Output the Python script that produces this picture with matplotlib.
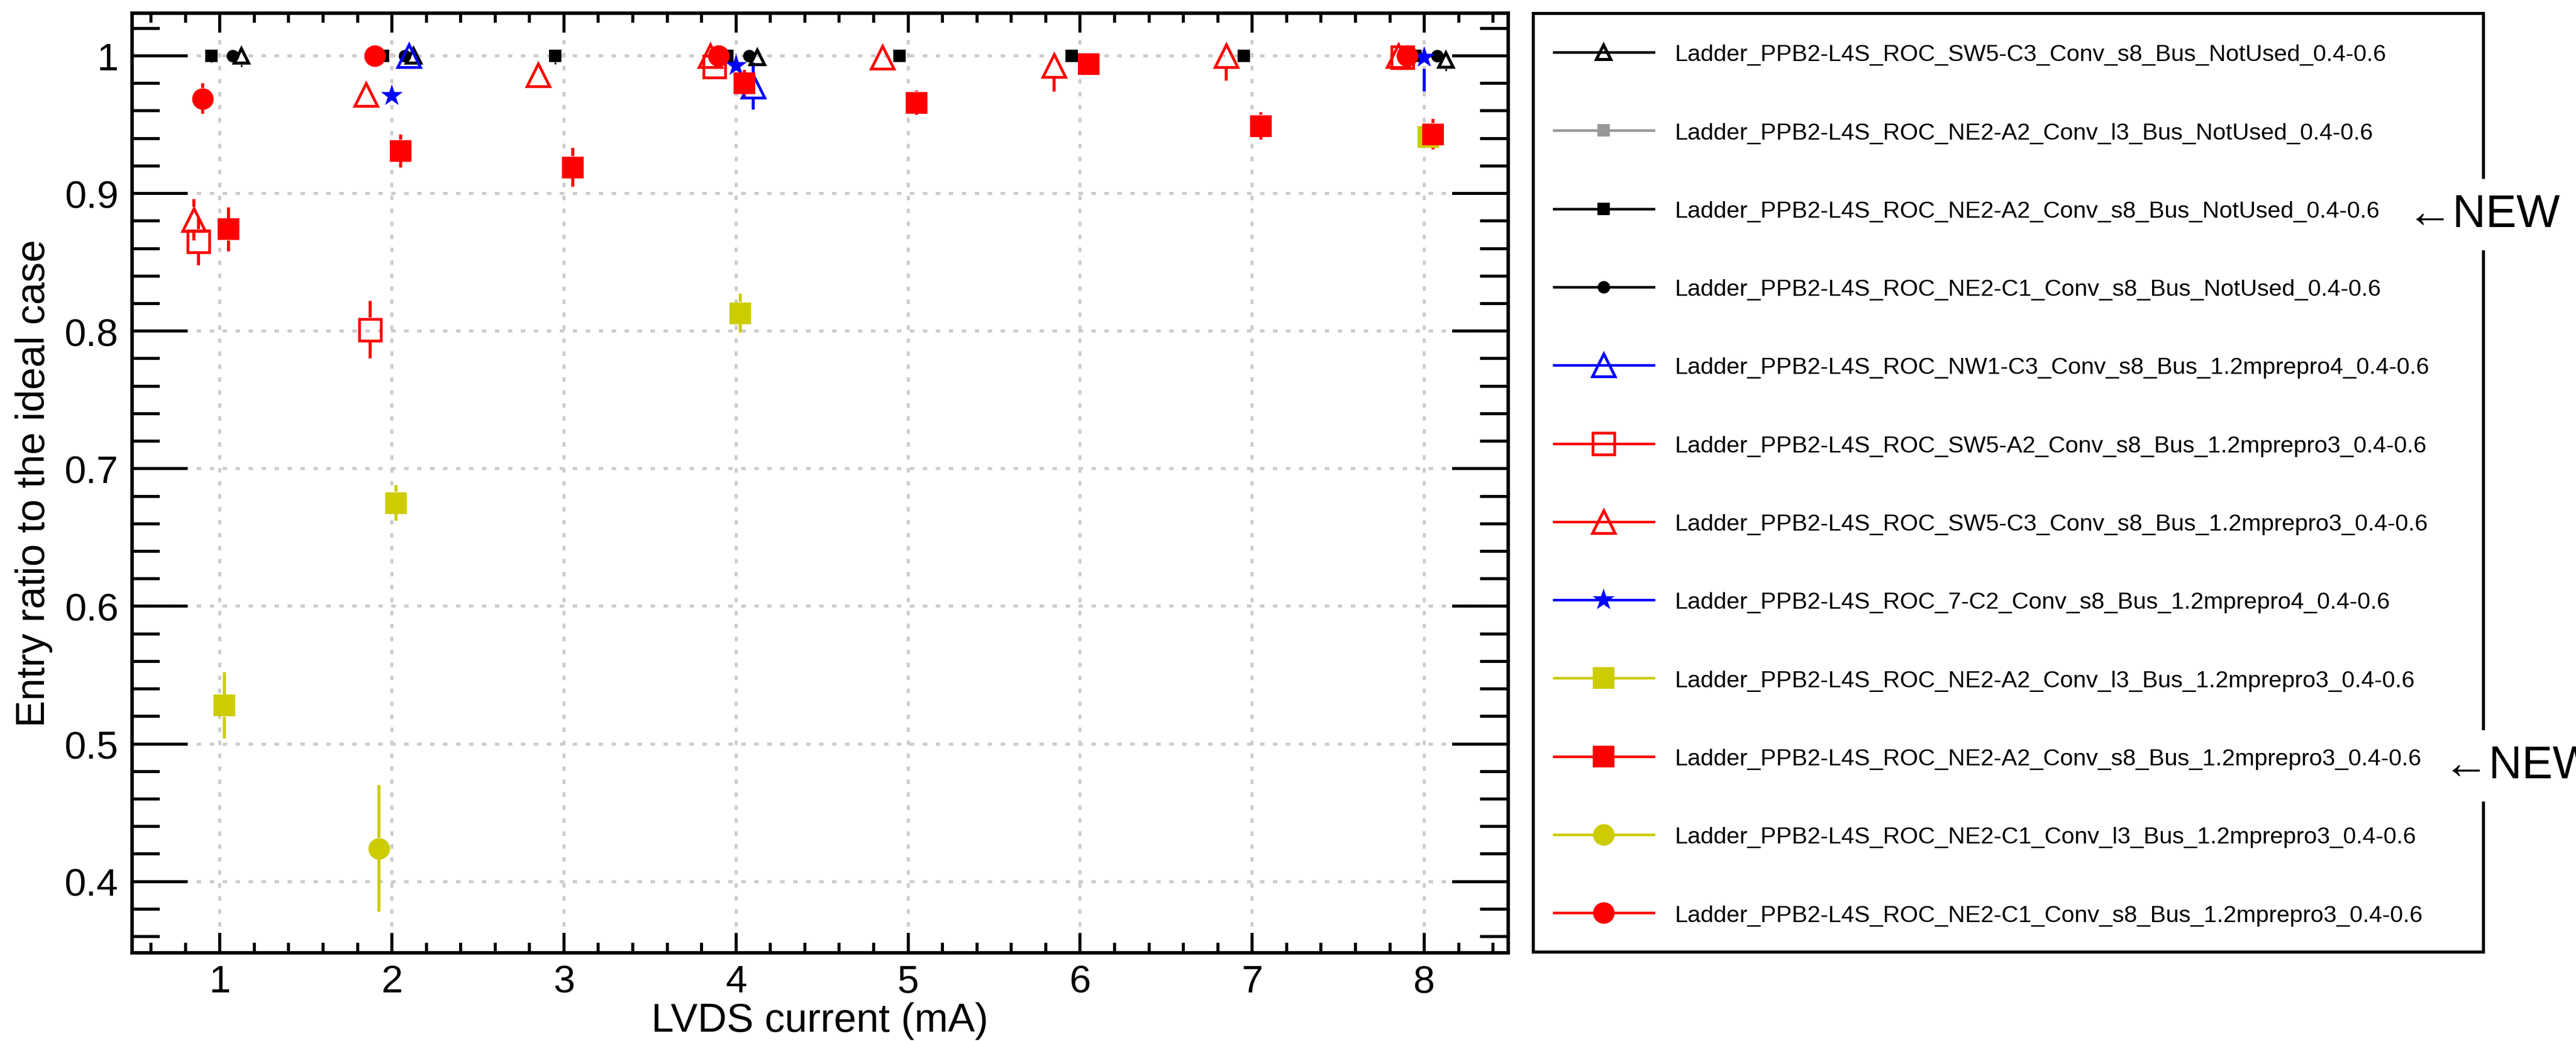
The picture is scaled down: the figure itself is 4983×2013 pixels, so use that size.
import numpy as np
import matplotlib.pyplot as plt
from matplotlib.ticker import MultipleLocator, FuncFormatter
from matplotlib.patches import Rectangle

plt.rcParams['font.family'] = ['Liberation Sans', 'DejaVu Sans']

W, H, DPI = 4983, 2014, 300

# ---- data ----
labels = [
    "Ladder_PPB2-L4S_ROC_SW5-C3_Conv_s8_Bus_NotUsed_0.4-0.6",
    "Ladder_PPB2-L4S_ROC_NE2-A2_Conv_l3_Bus_NotUsed_0.4-0.6",
    "Ladder_PPB2-L4S_ROC_NE2-A2_Conv_s8_Bus_NotUsed_0.4-0.6",
    "Ladder_PPB2-L4S_ROC_NE2-C1_Conv_s8_Bus_NotUsed_0.4-0.6",
    "Ladder_PPB2-L4S_ROC_NW1-C3_Conv_s8_Bus_1.2mprepro4_0.4-0.6",
    "Ladder_PPB2-L4S_ROC_SW5-A2_Conv_s8_Bus_1.2mprepro3_0.4-0.6",
    "Ladder_PPB2-L4S_ROC_SW5-C3_Conv_s8_Bus_1.2mprepro3_0.4-0.6",
    "Ladder_PPB2-L4S_ROC_7-C2_Conv_s8_Bus_1.2mprepro4_0.4-0.6",
    "Ladder_PPB2-L4S_ROC_NE2-A2_Conv_l3_Bus_1.2mprepro3_0.4-0.6",
    "Ladder_PPB2-L4S_ROC_NE2-A2_Conv_s8_Bus_1.2mprepro3_0.4-0.6",
    "Ladder_PPB2-L4S_ROC_NE2-C1_Conv_l3_Bus_1.2mprepro3_0.4-0.6",
    "Ladder_PPB2-L4S_ROC_NE2-C1_Conv_s8_Bus_1.2mprepro3_0.4-0.6",
]

sw5c3_nu_x = [1.125, 2.125, 4.125, 8.125]
sw5c3_nu_y = [1.0, 1.0, 0.999, 0.997]
sw5c3_nu_e = [0.008, 0.006, 0.006, 0.008]

ne2a2_l3_nu_x = [1.95]
ne2a2_l3_nu_y = [1.0]
ne2a2_l3_nu_e = [0.003]

ne2a2_s8_nu_x = [0.95, 1.95, 2.95, 3.95, 4.95, 5.95, 6.95, 7.95]
ne2a2_s8_nu_y = [1.0, 1.0, 1.0, 1.0, 1.0, 1.0, 1.0, 1.0]
ne2a2_s8_nu_e = [0.005, 0.003, 0.006, 0.003, 0.003, 0.003, 0.003, 0.003]

ne2c1_s8_nu_x = [1.075, 2.075, 4.075, 8.075]
ne2c1_s8_nu_y = [1.0, 1.0, 1.0, 1.0]
ne2c1_s8_nu_e = [0.003, 0.003, 0.003, 0.004]

nw1c3_p4_x = [2.1, 4.1]
nw1c3_p4_y = [1.0, 0.978]
nw1c3_p4_e = [0.004, 0.017]

sw5a2_p3_x = [0.875, 1.875, 3.875, 7.875]
sw5a2_p3_y = [0.865, 0.801, 0.992, 0.999]
sw5a2_p3_e = [0.017, 0.021, 0.005, 0.004]

sw5c3_p3_x = [0.85, 1.85, 2.85, 3.85, 4.85, 5.85, 6.85, 7.85]
sw5c3_p3_y = [0.881, 0.972, 0.986, 1.0, 0.999, 0.993, 1.0, 1.0]
sw5c3_p3_e = [0.015, 0.005, 0.005, 0.004, 0.004, 0.019, 0.018, 0.004]

c2_p4_x = [2.0, 4.0, 8.0]
c2_p4_y = [0.971, 0.993, 0.999]
c2_p4_e = [0.008, 0.005, 0.025]

ne2a2_l3_p3_x = [1.025, 2.025, 4.025, 8.025]
ne2a2_l3_p3_y = [0.528, 0.675, 0.813, 0.941]
ne2a2_l3_p3_e = [0.024, 0.013, 0.014, 0.006]

ne2a2_s8_p3_x = [1.05, 2.05, 3.05, 4.05, 5.05, 6.05, 7.05, 8.05]
ne2a2_s8_p3_y = [0.874, 0.931, 0.919, 0.980, 0.966, 0.994, 0.949, 0.943]
ne2a2_s8_p3_e = [0.016, 0.012, 0.014, 0.010, 0.009, 0.004, 0.010, 0.011]

ne2c1_l3_p3_x = [1.925]
ne2c1_l3_p3_y = [0.424]
ne2c1_l3_p3_e = [0.046]

ne2c1_s8_p3_x = [0.9, 1.9, 3.9, 7.9]
ne2c1_s8_p3_y = [0.969, 1.0, 1.0, 1.0]
ne2c1_s8_p3_e = [0.011, 0.003, 0.003, 0.003]

series = [
    (sw5c3_nu_x, sw5c3_nu_y, sw5c3_nu_e),
    (ne2a2_l3_nu_x, ne2a2_l3_nu_y, ne2a2_l3_nu_e),
    (ne2a2_s8_nu_x, ne2a2_s8_nu_y, ne2a2_s8_nu_e),
    (ne2c1_s8_nu_x, ne2c1_s8_nu_y, ne2c1_s8_nu_e),
    (nw1c3_p4_x, nw1c3_p4_y, nw1c3_p4_e),
    (sw5a2_p3_x, sw5a2_p3_y, sw5a2_p3_e),
    (sw5c3_p3_x, sw5c3_p3_y, sw5c3_p3_e),
    (c2_p4_x, c2_p4_y, c2_p4_e),
    (ne2a2_l3_p3_x, ne2a2_l3_p3_y, ne2a2_l3_p3_e),
    (ne2a2_s8_p3_x, ne2a2_s8_p3_y, ne2a2_s8_p3_e),
    (ne2c1_l3_p3_x, ne2c1_l3_p3_y, ne2c1_l3_p3_e),
    (ne2c1_s8_p3_x, ne2c1_s8_p3_y, ne2c1_s8_p3_e),
]

# marker, colour, size (pt), open?, edge width, error line width
YEL = '#cccc00'
styles = [
    ('^', 'black', 6.6, True, 1.4, 0.8),
    ('s', '#999999', 5.8, False, 0, 0.8),
    ('s', 'black', 5.8, False, 0, 0.8),
    ('o', 'black', 5.8, False, 0, 0.8),
    ('^', 'blue', 10.7, True, 1.3, 1.4),
    ('s', 'red', 10.2, True, 1.3, 1.4),
    ('^', 'red', 10.7, True, 1.3, 1.4),
    ('*', 'blue', 10.8, False, 0, 1.4),
    ('s', YEL, 10.3, False, 0, 1.4),
    ('s', 'red', 10.3, False, 0, 1.4),
    ('o', YEL, 10.0, False, 0, 1.4),
    ('o', 'red', 10.0, False, 0, 1.4),
]

# ---- figure ----
fig = plt.figure(figsize=(W / DPI, H / DPI), dpi=DPI)
left, right, top, bottom = 255.5, 2916.5, 26, 1842.5
ax = fig.add_axes([left / W, 1 - bottom / H, (right - left) / W, (bottom - top) / H])
ylo, yhi = 0.3486, 1.0312
ax.set_xlim(0.49, 8.485)
ax.set_ylim(ylo, yhi)

px_per_pt = DPI / 72.0
data_per_px = (yhi - ylo) / (bottom - top)

# error bars stop at the marker edge; a ratio cannot go above 1
for (xs, ys, es), (mk, col, ms, opn, mew, elw) in zip(series, styles):
    xs, ys, es = np.array(xs), np.array(ys), np.array(es)
    gap = (ms + mew) * px_per_pt / 2 * data_per_px
    lo = np.minimum(ys - es, ys - gap)
    hi = np.maximum(np.minimum(ys + es, 1.0), ys + gap)
    ax.vlines(xs, lo, ys - gap, color=col, lw=elw, zorder=3)
    ax.vlines(xs, ys + gap, hi, color=col, lw=elw, zorder=3)
    ax.plot(xs, ys, ls='none', marker=mk, ms=ms, color=col,
            mfc='none' if opn else col, mec=col, mew=mew, zorder=4)

ax.xaxis.set_major_locator(MultipleLocator(1))
ax.xaxis.set_minor_locator(MultipleLocator(0.2))
ax.yaxis.set_major_locator(MultipleLocator(0.1))
ax.yaxis.set_minor_locator(MultipleLocator(0.02))
fmt = FuncFormatter(lambda v, p: f"{v:g}")
ax.xaxis.set_major_formatter(fmt)
ax.yaxis.set_major_formatter(fmt)

ax.tick_params(which='both', direction='in', top=True, right=True, width=1.4,
               labelsize=18)
ax.tick_params(axis='x', which='major', length=9.1, pad=5.5)
ax.tick_params(axis='x', which='minor', length=4.6)
ax.tick_params(axis='y', which='major', length=26, pad=6.4)
ax.tick_params(axis='y', which='minor', length=13)
for s in ax.spines.values():
    s.set_linewidth(1.6)

ax.grid(True, which='major', color='#cccccc', lw=1.4, ls=(0, (1.5, 2.8)))
ax.set_axisbelow(True)

ax.set_xlabel("LVDS current (mA)", fontsize=18.7)
ax.set_ylabel("Entry ratio to the ideal case", fontsize=18.7)
ax.xaxis.set_label_coords(0.5, -0.0525)
ax.yaxis.set_label_coords(-0.0577, 0.5)

# ---- legend box drawn in pixel coordinates ----
lax = fig.add_axes([0, 0, 1, 1])
lax.set_xlim(0, W)
lax.set_ylim(H, 0)
lax.axis('off')
lax.add_patch(Rectangle((2966, 27), 4804 - 2966, 1842 - 27, fill=False,
                        ec='black', lw=1.4, zorder=1))
leg_fs = 10.9
for i, (lab, (mk, col, ms, opn, mew, elw)) in enumerate(zip(labels, styles)):
    yy = 102 + i * 151.3
    lax.plot([3006, 3199], [yy, yy], color=col, lw=1.2, zorder=2)
    lax.plot([3102], [yy], marker=mk, ms=ms, color=col,
             mfc='none' if opn else col, mec=col, mew=mew, zorder=3)
    lax.text(3239, yy + 0.358 * leg_fs * px_per_pt, lab, fontsize=leg_fs,
             va='baseline', ha='left')

# the second tag runs past the right edge, as in the original
new_fs = 21.4
for xx, yb in [(4656, 439), (4726, 1505)]:
    lax.text(xx, yb, "\u2190NEW", fontsize=new_fs, va='baseline', ha='left',
             zorder=5, bbox=dict(boxstyle='square,pad=0.3', fc='white', ec='none'))

fig.savefig("out.png", dpi=DPI)
